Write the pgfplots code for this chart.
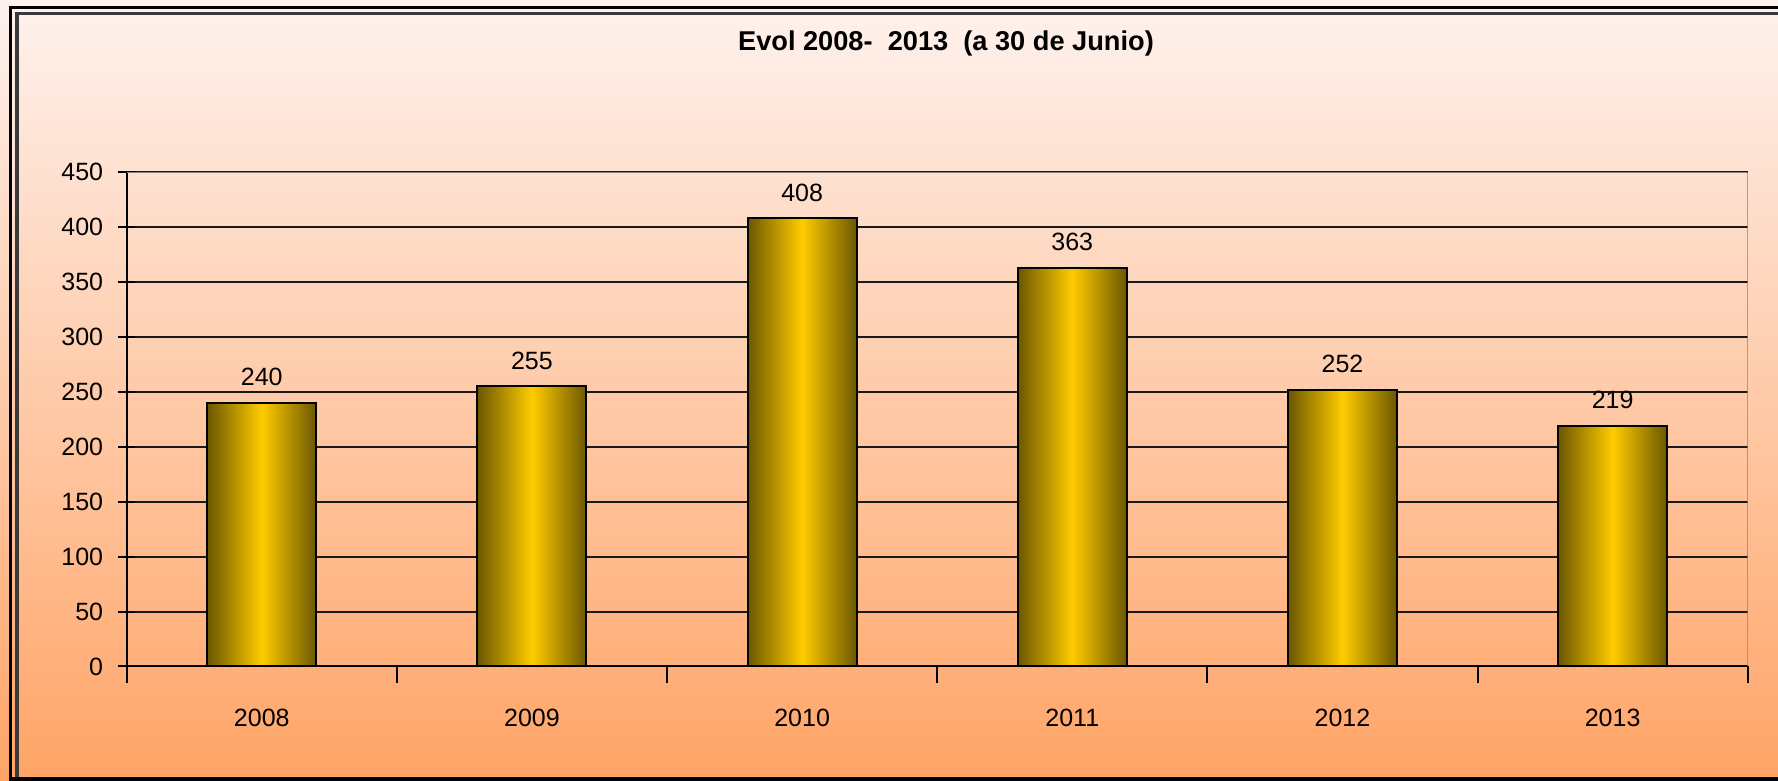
\documentclass[border=0pt]{standalone}
\usepackage{fontspec}
\setmainfont{Liberation Sans}
\usepackage{pgfplots}
\pgfplotsset{compat=1.18}
\definecolor{bgtop}{HTML}{FEF2EE}
\definecolor{bgbot}{HTML}{FFA466}
\definecolor{barmid}{HTML}{FFCC00}
\definecolor{baredge}{HTML}{6B5700}
\definecolor{framegray}{HTML}{3A3A3A}
\begin{document}
\begin{tikzpicture}
% 1 px of the reference = 0.5pt
\useasboundingbox (0,0) rectangle (889pt,390.5pt);
\shade[top color=bgtop, bottom color=bgbot] (0,0) rectangle (889pt,390.5pt);
% frame
\draw[black, line width=1.5pt] (5.25pt,0) -- (5.25pt,386.75pt) -- (889pt,386.75pt);
\draw[framegray, line width=1.75pt] (8.5pt,2pt) -- (8.5pt,383.75pt) -- (889pt,383.75pt);
\draw[black, line width=2pt] (5.25pt,1pt) -- (889pt,1pt);
% title
\node[anchor=base, font=\fontsize{13.6}{15}\selectfont\bfseries] at (473pt,365.2pt)
  {Evol 2008-\ \ 2013\ \ (a 30 de Junio)};
\begin{axis}[
    at={(63.35pt,57.25pt)}, anchor=south west,
    scale only axis,
    width=810.5pt, height=247.1pt,
    xmin=0.5, xmax=6.5,
    ymin=0, ymax=450,
    xtick={1,...,6},
    xticklabels={2008,2009,2010,2011,2012,2013},
    minor xtick={0.5,1.5,...,6.5},
    ytick={0,50,...,450},
    axis x line*=bottom,
    axis y line*=left,
    axis line style={black, line width=1pt, -},
    tick align=center,
    major tick length=8.5pt,
    minor tick length=8.5pt,
    major x tick style={draw=none},
    every tick/.style={black, line width=1pt},
    ymajorgrids,
    grid style={black!90, line width=1pt},
    tick label style={font=\fontsize{12.5}{14}\selectfont},
    /pgf/number format/assume math mode=true,
    yticklabel shift=4pt,
    xticklabel shift=9pt,
    ybar,
    bar width=54.5pt,
    bar shift=0pt,
    nodes near coords,
    nodes near coords style={anchor=south, inner sep=0pt, yshift=8pt, text=black,
      font=\fontsize{12.5}{14}\selectfont},
    goldbar/.style={draw=black, line width=1pt,
      left color=baredge, right color=baredge, middle color=barmid},
  ]
% one plot per bar so that every bar gets its own shading
\addplot[goldbar] coordinates {(1,240)};
\addplot[goldbar] coordinates {(2,255)};
\addplot[goldbar] coordinates {(3,408)};
\addplot[goldbar] coordinates {(4,363)};
\addplot[goldbar] coordinates {(5,252)};
\addplot[goldbar] coordinates {(6,219)};
\draw[gray, line width=1pt] (rel axis cs:0,1) -- (rel axis cs:1,1) -- (rel axis cs:1,0);
\end{axis}
\end{tikzpicture}
\end{document}
